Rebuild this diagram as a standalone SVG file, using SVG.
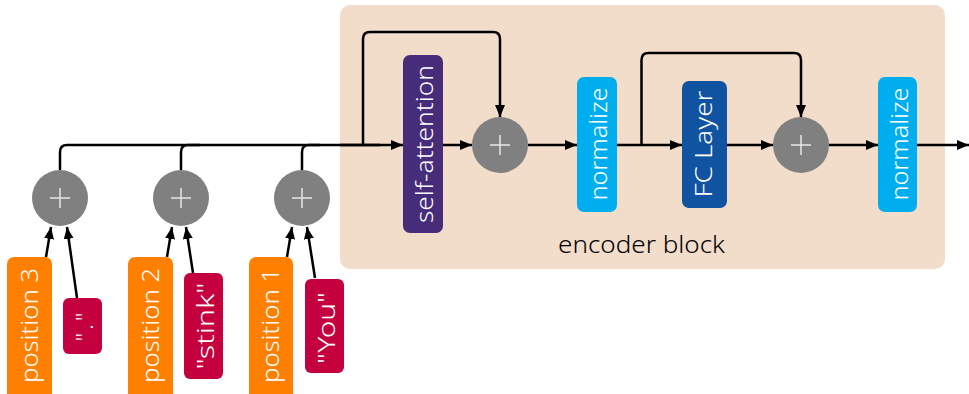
<svg xmlns="http://www.w3.org/2000/svg" width="969" height="394" viewBox="0 0 969 394">
<defs>
<marker id="arr" markerUnits="userSpaceOnUse" markerWidth="14" markerHeight="12" refX="12" refY="5" orient="auto">
<path d="M0,0 L12,5 L0,10 Z" fill="#000"/>
</marker>
<style>
.lbl{font-family:"Noto Sans","DejaVu Sans",sans-serif;font-size:24px;fill:#fff;text-anchor:middle;font-weight:300}
.cap{font-family:"Noto Sans","DejaVu Sans",sans-serif;font-size:24px;fill:#000;text-anchor:middle;font-weight:300}
.plus{fill:#808080}
.pl{stroke:#e6e6e6;stroke-width:1.5}
.c{fill:none;stroke:#000;stroke-width:2.5}
.ca{fill:none;stroke:#000;stroke-width:2.5;marker-end:url(#arr)}
</style>
</defs>
<g id="encoder-block">
<rect x="340" y="5" width="605" height="264" rx="10" fill="#f2dcca"/>
<text class="cap" x="641.5" y="253" textLength="167" lengthAdjust="spacingAndGlyphs">encoder block</text>
</g>
<g id="connectors">
<path class="c" d="M60,170 V152 Q60,145 67,145 H380"/>
<path class="c" d="M181,170 V152 Q181,145 188,145 H200"/>
<path class="c" d="M302,170 V152 Q302,145 309,145 H320"/>
<path class="ca" d="M340,145 H403"/>
<path class="ca" d="M363,145 V39 Q363,32 370,32 H493 Q500,32 500,39 V117"/>
<path class="ca" d="M443,145 H472"/>
<path class="ca" d="M528,145 H577"/>
<path class="ca" d="M617,145 H682"/>
<path class="ca" d="M641.5,145 V60 Q641.5,53 648.5,53 H794 Q801,53 801,60 V117"/>
<path class="ca" d="M727,145 H773"/>
<path class="ca" d="M829,145 H878"/>
<path class="ca" d="M917,145 H969"/>
<path class="ca" d="M46,257 L51,227"/>
<path class="ca" d="M77,298 L67,227"/>
<path class="ca" d="M167,257 L172,227"/>
<path class="ca" d="M193,273 L186,227"/>
<path class="ca" d="M287,257 L292,227"/>
<path class="ca" d="M315,278 L307,227"/>
</g>
<g id="self-attention">
<rect x="403" y="55" width="40" height="178" rx="7" fill="#472c7a"/>
<text class="lbl" transform="translate(423,144) rotate(-90)" y="10" textLength="158" lengthAdjust="spacingAndGlyphs">self-attention</text>
</g>
<g id="add1">
<circle class="plus" cx="500" cy="145" r="28"/>
<path class="pl" d="M490,145 H510 M500,135 V155"/>
</g>
<g id="normalize1">
<rect x="577" y="77" width="40" height="135" rx="7" fill="#00aeef"/>
<text class="lbl" transform="translate(597,144) rotate(-90)" y="10" textLength="113" lengthAdjust="spacingAndGlyphs">normalize</text>
</g>
<g id="fc-layer">
<rect x="682" y="81" width="45" height="127" rx="7" fill="#1053a0"/>
<text class="lbl" transform="translate(704.5,144) rotate(-90)" y="7" textLength="107" lengthAdjust="spacingAndGlyphs">FC Layer</text>
</g>
<g id="add2">
<circle class="plus" cx="801" cy="145" r="28"/>
<path class="pl" d="M791,145 H811 M801,135 V155"/>
</g>
<g id="normalize2">
<rect x="878" y="77" width="39" height="135" rx="7" fill="#00aeef"/>
<text class="lbl" transform="translate(897.5,144) rotate(-90)" y="10" textLength="113" lengthAdjust="spacingAndGlyphs">normalize</text>
</g>
<g id="sum3">
<circle class="plus" cx="60" cy="198" r="28"/>
<path class="pl" d="M50,198 H70 M60,188 V208"/>
</g>
<g id="sum2">
<circle class="plus" cx="181" cy="198" r="28"/>
<path class="pl" d="M171,198 H191 M181,188 V208"/>
</g>
<g id="sum1">
<circle class="plus" cx="302" cy="198" r="28"/>
<path class="pl" d="M292,198 H312 M302,188 V208"/>
</g>
<g id="position3">
<rect x="7" y="257" width="45" height="150" rx="7" fill="#ff8000"/>
<text class="lbl" transform="translate(29.5,325.5) rotate(-90)" y="8" textLength="115" lengthAdjust="spacingAndGlyphs">position 3</text>
</g>
<g id="position2">
<rect x="128" y="257" width="45" height="150" rx="7" fill="#ff8000"/>
<text class="lbl" transform="translate(150.5,325.5) rotate(-90)" y="8" textLength="115" lengthAdjust="spacingAndGlyphs">position 2</text>
</g>
<g id="position1">
<rect x="249" y="257" width="44" height="150" rx="7" fill="#ff8000"/>
<text class="lbl" transform="translate(271,325.5) rotate(-90)" y="8" textLength="115" lengthAdjust="spacingAndGlyphs">position 1</text>
</g>
<g id="token-period">
<rect x="63" y="298" width="39" height="56" rx="6" fill="#c4003f"/>
<text class="lbl" transform="translate(82.5,327) rotate(-90)" y="10" textLength="29" lengthAdjust="spacing">"."</text>
</g>
<g id="token-stink">
<rect x="184" y="273" width="39" height="106" rx="6" fill="#c4003f"/>
<text class="lbl" transform="translate(203.5,326) rotate(-90)" y="10" textLength="87" lengthAdjust="spacingAndGlyphs">"stink"</text>
</g>
<g id="token-you">
<rect x="305" y="279" width="39" height="94" rx="6" fill="#c4003f"/>
<text class="lbl" transform="translate(324.5,328) rotate(-90)" y="10" textLength="72" lengthAdjust="spacingAndGlyphs">"You"</text>
</g>
</svg>
